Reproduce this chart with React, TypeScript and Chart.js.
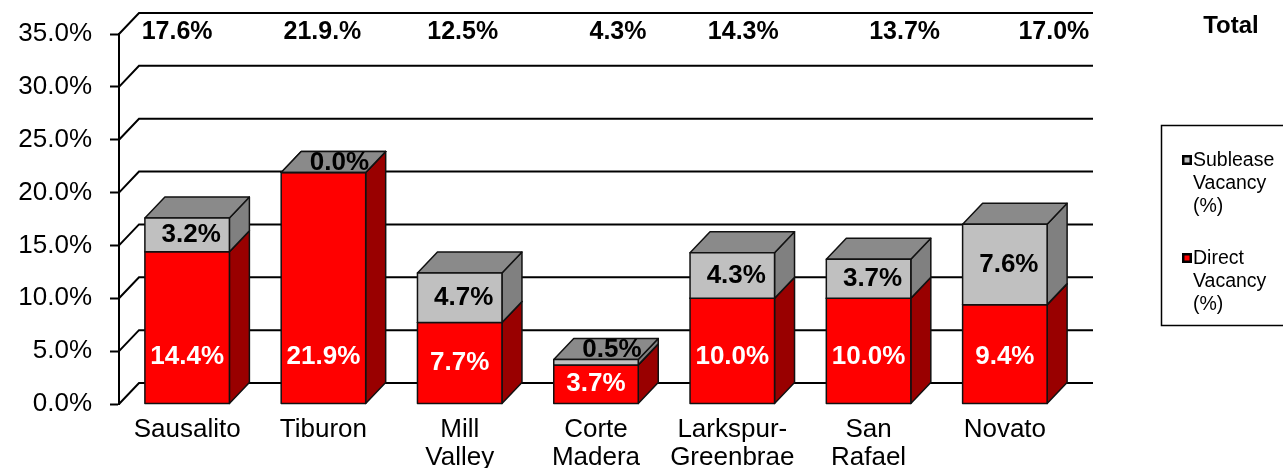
import React, { useEffect, useRef } from 'react';
import { Chart, registerables } from 'chart.js';

Chart.register(...registerables);

// ---------- data ----------
const categories: (string | string[])[] = [
  'Sausalito',
  'Tiburon',
  ['Mill', 'Valley'],
  ['Corte', 'Madera'],
  ['Larkspur-', 'Greenbrae'],
  ['San', 'Rafael'],
  'Novato',
];
const directVacancy = [14.4, 21.9, 7.7, 3.7, 10.0, 10.0, 9.4];
const subleaseVacancy = [3.2, 0.0, 4.7, 0.5, 4.3, 3.7, 7.6];
const totalLabels = ['17.6%', '21.9.%', '12.5%', '4.3%', '14.3%', '13.7%', '17.0%'];
const yTickValues = [0, 5, 10, 15, 20, 25, 30, 35];
const directLegend = ['Direct', 'Vacancy', '(%)'];
const subleaseLegend = ['Sublease', 'Vacancy', '(%)'];
const totalTitle = 'Total';

// ---------- layout / style ----------
const FONT = "'Liberation Sans', Arial, Helvetica, sans-serif";
const DX = 20;
const DY = -21;
const totalNudge = [-10, -1, 3, 22, 11, 36, 49];
const faces = [
  { front: '#FF0000', side: '#990000', top: '#B80000' },
  { front: '#C0C0C0', side: '#808080', top: '#8A8A8A' },
];

function poly(ctx: CanvasRenderingContext2D, pts: number[][], fill: string) {
  ctx.beginPath();
  ctx.moveTo(pts[0][0], pts[0][1]);
  for (let k = 1; k < pts.length; k++) ctx.lineTo(pts[k][0], pts[k][1]);
  ctx.closePath();
  ctx.fillStyle = fill;
  ctx.fill();
  ctx.stroke();
}

const threeD = {
  id: 'threeD',
  beforeDatasetsDraw(chart: any) {
    const { ctx, chartArea, scales } = chart;
    const { left, right } = chartArea;
    ctx.save();
    ctx.strokeStyle = '#000';
    ctx.lineWidth = 2;
    yTickValues.forEach((v) => {
      const py = scales.y.getPixelForValue(v);
      ctx.beginPath();
      ctx.moveTo(left, py);
      ctx.lineTo(left + DX, py + DY);
      ctx.lineTo(right + DX, py + DY);
      ctx.stroke();
    });
    ctx.restore();
  },
  afterDatasetsDraw(chart: any) {
    const { ctx, scales } = chart;
    const n = categories.length;
    ctx.save();
    ctx.lineWidth = 1.5;
    ctx.strokeStyle = '#111';
    ctx.lineJoin = 'round';
    for (let i = 0; i < n; i++) {
      for (let d = 0; d < 2; d++) {
        const el = chart.getDatasetMeta(d).data[i];
        const { x, y, base, width } = el.getProps(['x', 'y', 'base', 'width'], true);
        const l = x - width / 2;
        const r = x + width / 2;
        const f = faces[d];
        poly(ctx, [[r, base], [r + DX, base + DY], [r + DX, y + DY], [r, y]], f.side);
        poly(ctx, [[l, y], [l + DX, y + DY], [r + DX, y + DY], [r, y]], f.top);
        poly(ctx, [[l, y], [r, y], [r, base], [l, base]], f.front);
      }
    }
    // value labels
    ctx.textAlign = 'center';
    ctx.textBaseline = 'middle';
    ctx.font = `bold 26px ${FONT}`;
    for (let i = 0; i < n; i++) {
      const e0 = chart.getDatasetMeta(0).data[i].getProps(['x', 'y', 'base'], true);
      ctx.fillStyle = '#FFFFFF';
      const y0 = Math.max((e0.y + e0.base) / 2, e0.base - 47);
      ctx.fillText(directVacancy[i].toFixed(1) + '%', e0.x, y0);

      const e1 = chart.getDatasetMeta(1).data[i].getProps(['x', 'y', 'base'], true);
      ctx.fillStyle = '#000000';
      const h = e1.base - e1.y;
      if (h >= 22) {
        ctx.fillText(subleaseVacancy[i].toFixed(1) + '%', e1.x + 4, (e1.y + e1.base) / 2);
      } else {
        ctx.fillText(subleaseVacancy[i].toFixed(1) + '%', e1.x + 16, e1.y - 10);
      }
    }
    // totals row
    ctx.font = `bold 25px ${FONT}`;
    for (let i = 0; i < n; i++) {
      const cx = scales.x.getPixelForValue(i) + totalNudge[i];
      ctx.fillText(totalLabels[i], cx, 32);
    }
    ctx.restore();
  },
  afterDraw(chart: any) {
    const { ctx } = chart;
    ctx.save();
    ctx.fillStyle = '#000';
    ctx.textAlign = 'center';
    ctx.textBaseline = 'middle';
    ctx.font = `bold 24px ${FONT}`;
    ctx.fillText(totalTitle, 1231, 26);

    // legend box
    ctx.strokeStyle = '#000';
    ctx.lineWidth = 1.5;
    ctx.strokeRect(1161.5, 125.5, 200, 200);
    const items = [
      { lines: subleaseLegend, color: faces[1].front, y: 160 },
      { lines: directLegend, color: faces[0].front, y: 258 },
    ];
    ctx.textAlign = 'left';
    ctx.font = `19.5px ${FONT}`;
    items.forEach((it) => {
      ctx.fillStyle = '#000';
      ctx.fillRect(1182, it.y - 5, 10, 10);
      ctx.fillStyle = it.color;
      ctx.fillRect(1184.5, it.y - 2.5, 5, 5);
      ctx.fillStyle = '#000';
      it.lines.forEach((t, k) => ctx.fillText(t, 1193, it.y + 1 + k * 23));
    });
    ctx.restore();
  },
};

export default function App() {
  const ref = useRef<HTMLCanvasElement>(null);
  useEffect(() => {
    if (!ref.current) return;
    const chart = new Chart(ref.current, {
      type: 'bar',
      data: {
        labels: categories as any,
        datasets: [
          {
            label: 'Direct Vacancy (%)',
            data: directVacancy,
            backgroundColor: 'rgba(0,0,0,0)',
            borderWidth: 0,
          },
          {
            label: 'Sublease Vacancy (%)',
            data: subleaseVacancy,
            backgroundColor: 'rgba(0,0,0,0)',
            borderWidth: 0,
          },
        ],
      },
      options: {
        responsive: false,
        maintainAspectRatio: false,
        animation: false,
        devicePixelRatio: 1,
        layout: { padding: { left: 0, right: 210, top: 34, bottom: 0 } },
        datasets: { bar: { barPercentage: 0.62, categoryPercentage: 1 } },
        plugins: { legend: { display: false }, tooltip: { enabled: false } },
        scales: {
          x: {
            stacked: true,
            grid: { display: false },
            border: { display: false },
            ticks: {
              color: '#000',
              font: { family: FONT, size: 26, lineHeight: 1.08 },
              padding: 4,
              maxRotation: 0,
              autoSkip: false,
            },
            afterFit: (s: any) => {
              s.height = 64;
            },
          },
          y: {
            stacked: true,
            min: 0,
            max: 35,
            afterBuildTicks: (s: any) => {
              s.ticks = yTickValues.map((v) => ({ value: v }));
            },
            grid: {
              drawOnChartArea: false,
              drawTicks: true,
              tickLength: 9,
              tickWidth: 2,
              tickColor: '#000',
              color: '#000',
            },
            border: { display: true, color: '#000', width: 2 },
            ticks: {
              color: '#000',
              font: { family: FONT, size: 26 },
              padding: 18,
              callback: (v: any) => Number(v).toFixed(1) + '%',
            },
            afterFit: (s: any) => {
              s.width = 119;
            },
          },
        },
      },
      plugins: [threeD],
    });
    return () => chart.destroy();
  }, []);
  return (
    <div style={{ position: 'absolute', left: 0, top: 0, width: 1283, height: 468, background: '#fff' }}>
      <canvas ref={ref} width={1283} height={468} style={{ display: 'block' }} />
    </div>
  );
}
